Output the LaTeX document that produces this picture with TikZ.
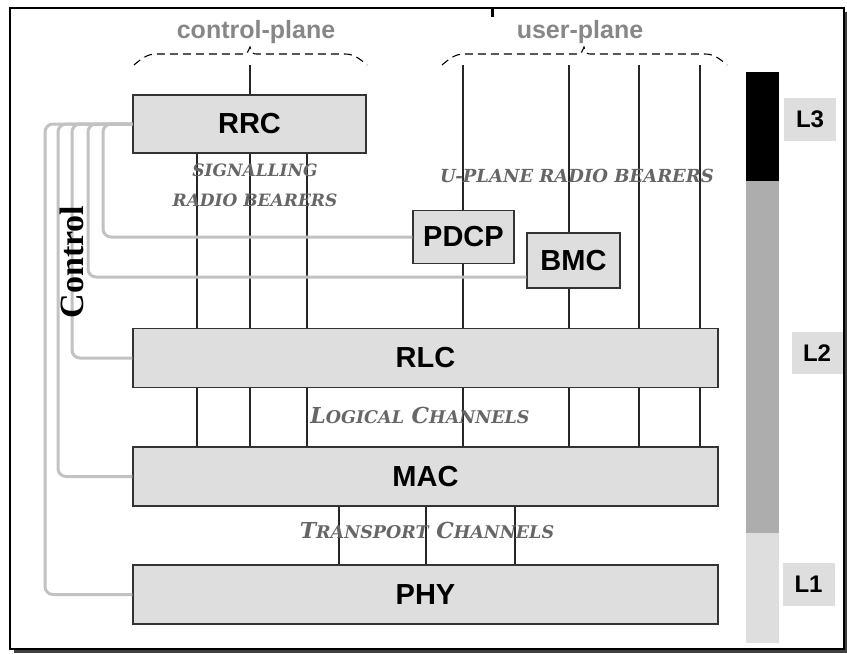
\documentclass[tikz,border=0pt]{standalone}
\usepackage{fontspec}
\setmainfont{Liberation Sans}
\newfontfamily\chanfont{DejaVu Serif}
\newfontfamily\ctlfont{Liberation Serif}
\usetikzlibrary{calc}
\definecolor{boxgray}{HTML}{DEDEDE}
\definecolor{ctlgray}{HTML}{C2C2C2}
\definecolor{labgray}{HTML}{666666}
\definecolor{plgray}{HTML}{878787}
\definecolor{bargray}{HTML}{ADADAD}
\newcommand{\smc}[1]{{\fontsize{17.5}{17.5}\selectfont #1}}
\tikzset{
  layer/.style={draw=black!80, line width=1.3pt, fill=boxgray, inner sep=0pt,
    font=\fontsize{29}{29}\selectfont\bfseries},
  lvl/.style={fill=boxgray, inner sep=0pt, font=\fontsize{24}{24}\selectfont\bfseries},
  bearer/.style={draw=black!85, line width=1.1pt},
  ctl/.style={draw=ctlgray, line width=3pt, rounded corners=8pt},
  chan/.style={text=labgray, font=\chanfont\bfseries\itshape\fontsize{22}{30}\selectfont},
  plane/.style={text=plgray, anchor=base, font=\fontsize{25}{25}\selectfont\bfseries},
  brc/.style={line width=1.1pt, dash pattern=on 8pt off 5pt}
}
\begin{document}
\begin{tikzpicture}[x=1pt,y=-1pt]
\useasboundingbox (0,0) rectangle (847,654);
% frame
\fill[black!75] (14,12) rectangle (848,653);
\draw[fill=white, line width=1.5pt] (10,8) rectangle (844,649);
\fill (491,8) rectangle (494,17);

% level bar
\fill[black] (746,72) rectangle (779,181);
\fill[bargray] (746,181) rectangle (779,533);
\fill[boxgray] (746,533) rectangle (779,643);
\node[lvl, minimum width=52pt, minimum height=43pt] (l3) at (810,119.5) {L3};
\node[lvl, minimum width=51pt, minimum height=42pt] (l2) at (817,353) {L2};
\node[lvl, minimum width=52pt, minimum height=43pt] (l1) at (808.5,584) {L1};

% planes
\node[plane] (cplane) at (256,38) {control-plane};
\node[plane] (uplane) at (580,38) {user-plane};
\draw[brc] (134,65) .. controls (141,59) and (147,54) .. (156,54) -- (243,54)
  .. controls (247,54) .. (250,47) .. controls (253,54) .. (257,54) -- (345,54)
  .. controls (354,54) and (360,59) .. (367,65);
\draw[brc] (442,65) .. controls (449,59) and (455,54) .. (464,54) -- (577,54)
  .. controls (581,54) .. (584,47) .. controls (587,54) .. (591,54) -- (705,54)
  .. controls (714,54) and (720,59) .. (727,65);
\coordinate (ct) at (250,65);
\foreach \x/\n in {463/u1,569/u2,639/u3,700/u4}
  \coordinate (\n) at (\x,65);

% layers
\node[layer, minimum width=233pt, minimum height=58pt] (rrc) at (249.5,124) {RRC};
\node[layer, minimum width=101pt, minimum height=53pt] (pdcp) at (463.5,237) {PDCP};
\node[layer, minimum width=93pt, minimum height=55pt] (bmc) at (573.5,260.5) {BMC};
\node[layer, minimum width=585pt, minimum height=59pt] (rlc) at (425.5,358) {RLC};
\node[layer, minimum width=585pt, minimum height=59pt] (mac) at (425.5,476.5) {MAC};
\node[layer, minimum width=585pt, minimum height=59pt] (phy) at (425.5,594.5) {PHY};

% bearers and channels
\draw[bearer] (ct) -- (rrc.north -| ct);
\foreach \x in {197,250,307}
  \draw[bearer] (rrc.south -| \x,0) -- (rlc.north -| \x,0);
\draw[bearer] (u1) -- (pdcp.north -| u1);
\draw[bearer] (pdcp.south -| u1) -- (rlc.north -| u1);
\draw[bearer] (u2) -- (bmc.north -| u2);
\draw[bearer] (bmc.south -| u2) -- (rlc.north -| u2);
\draw[bearer] (u3) -- (rlc.north -| u3);
\draw[bearer] (u4) -- (rlc.north -| u4);
\foreach \x in {197,250,307,463,569,639,700}
  \draw[bearer] (rlc.south -| \x,0) -- (mac.north -| \x,0);
\foreach \x in {339,426,515}
  \draw[bearer] (mac.south -| \x,0) -- (phy.north -| \x,0);

% control lines
\foreach \x/\t/\s in {103/pdcp/0,88/bmc/-16.5,72/rlc/0,58/mac/0,45/phy/0}
  \draw[ctl] (rrc.west) -- (\x,124) |- ([yshift=\s pt]\t.west);
\node[rotate=90, font=\ctlfont\bfseries\fontsize{34}{34}\selectfont] (ctrl) at (72,262) {Control};

% labels
\node[chan, font=\chanfont\bfseries\itshape\fontsize{17}{30}\selectfont, align=center] (sigrb) at (255,185) {SIGNALLING\\RADIO~BEARERS};
\node[chan, font=\chanfont\bfseries\itshape\fontsize{18}{18}\selectfont] (uprb) at (577,175.5) {U-PLANE RADIO BEARERS};
\node[chan] (logch) at (420,415.5) {L\smc{OGICAL} C\smc{HANNELS}};
\node[chan] (trch) at (427,530.5) {T\smc{RANSPORT} C\smc{HANNELS}};
\end{tikzpicture}
\end{document}
